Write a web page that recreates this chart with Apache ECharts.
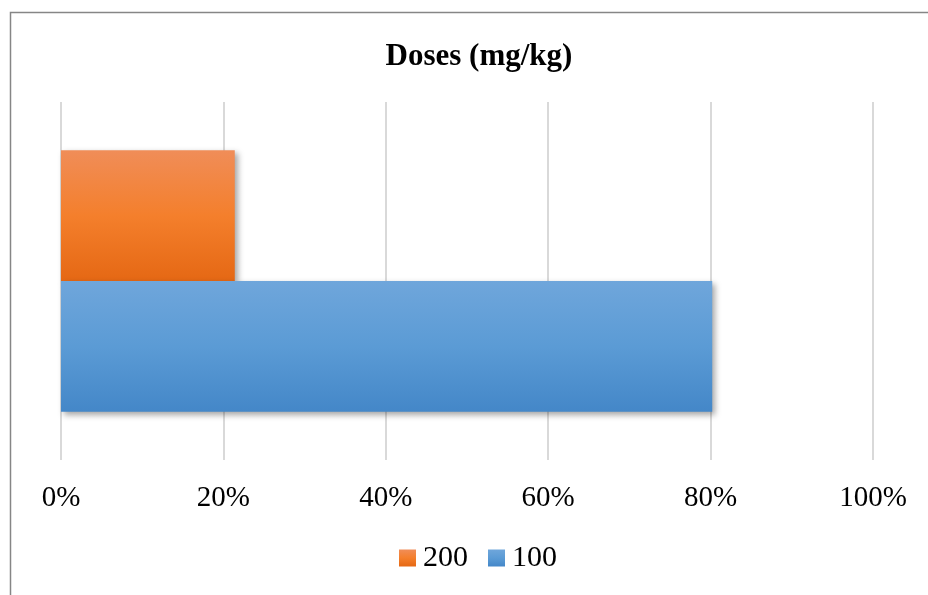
<!DOCTYPE html>
<html>
<head>
<meta charset="utf-8">
<script src="https://cdn.jsdelivr.net/npm/echarts@6/dist/echarts.min.js"></script>
<style>
html,body{margin:0;padding:0;background:#fff;}
#chart{width:928px;height:595px;}
</style>
</head>
<body>
<div id="chart"></div>
<script>
const categories = ['Doses'];
const seriesNames = ['200', '100'];
const values200 = [21.4];
const values100 = [80.2];
const xTicks = [0, 20, 40, 60, 80, 100];

const FONT = "'Liberation Serif','Times New Roman',serif";

function grad(top, mid, bottom) {
  return new echarts.graphic.LinearGradient(0, 0, 0, 1, [
    {offset: 0, color: top},
    {offset: 0.5, color: mid},
    {offset: 1, color: bottom}
  ]);
}

const chart = echarts.init(document.getElementById('chart'), null, {renderer: 'canvas'});
const shadow = {shadowBlur: 6, shadowOffsetX: 3, shadowOffsetY: 3, shadowColor: 'rgba(0,0,0,0.35)'};

chart.setOption({
  animation: false,
  backgroundColor: '#fff',
  title: {
    text: 'Doses (mg/kg)',
    left: 474, textAlign: 'center', top: 36,
    textStyle: {fontFamily: FONT, fontWeight: 'bold', fontSize: 31, color: '#000'}
  },
  graphic: [{
    type: 'rect', silent: true,
    shape: {x: 10.5, y: 12.5, width: 1200, height: 1200},
    style: {fill: 'none', stroke: '#868686', lineWidth: 1.5}
  }],
  legend: {
    data: [seriesNames[0], seriesNames[1]],
    left: 399, top: 543, padding: 0,
    itemWidth: 17, itemHeight: 17, itemGap: 20,
    icon: 'rect',
    textStyle: {fontFamily: FONT, fontSize: 30, color: '#000', padding: [0, 0, 0, 2]}
  },
  grid: {left: 61, right: 55, top: 102, bottom: 135, containLabel: false},
  xAxis: {
    type: 'value', min: 0, max: 100, interval: 20,
    axisLine: {show: false}, axisTick: {show: false},
    splitLine: {show: true, lineStyle: {color: '#d9d9d9', width: 2}},
    axisLabel: {
      margin: 24, fontFamily: FONT, fontSize: 29, color: '#000',
      formatter: v => xTicks.includes(v) ? v + '%' : ''
    }
  },
  yAxis: {
    type: 'category', data: categories,
    axisLine: {show: false}, axisTick: {show: false}, axisLabel: {show: false},
    splitLine: {show: false}
  },
  series: [
    {
      name: seriesNames[0], type: 'bar', data: values200,
      barGap: '0%', barCategoryGap: '27%', z: 2,
      itemStyle: Object.assign({color: grad('#f08d58', '#f47f2c', '#e56814')}, shadow)
    },
    {
      name: seriesNames[1], type: 'bar', data: values100,
      barGap: '0%', barCategoryGap: '27%', z: 2,
      itemStyle: Object.assign({color: grad('#6fa6db', '#5b9bd5', '#4487c8')}, shadow)
    }
  ]
});
</script>
</body>
</html>
